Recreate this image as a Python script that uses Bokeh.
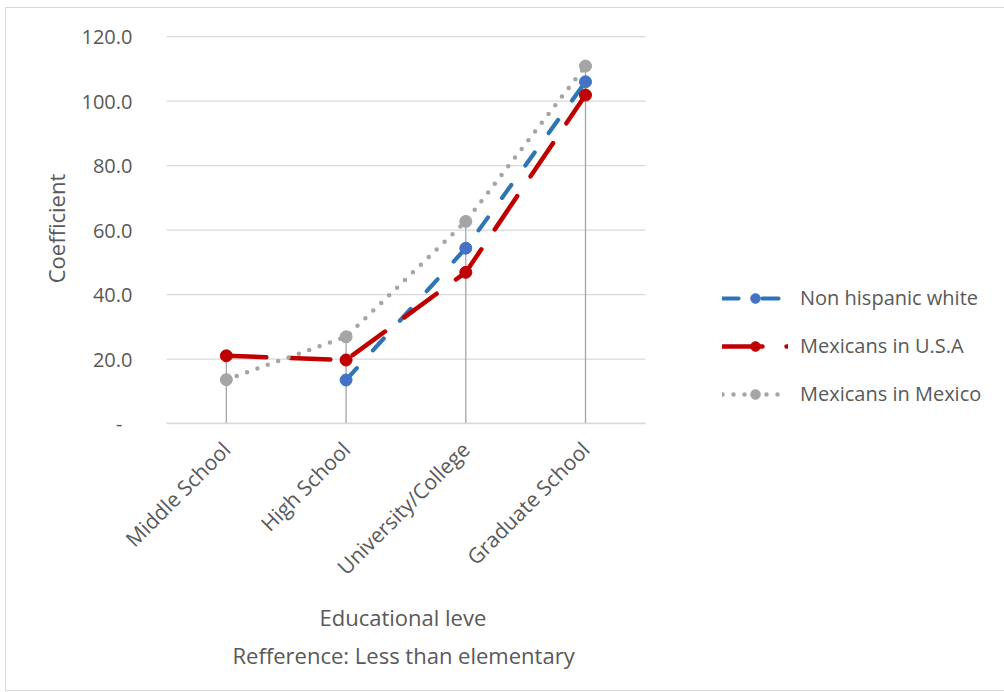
import math
from bokeh.plotting import figure
from bokeh.models import (ColumnDataSource, FactorRange, Range1d, FixedTicker,
                          Legend, LegendItem, Title)
from bokeh.embed import file_html
from bokeh.resources import INLINE

# Education levels (reference category: less than elementary)
levels = ["Middle School", "High School", "University/College", "Graduate School"]

# Regression coefficients per group
non_hispanic_white = [float("nan"), 13.5, 54.4, 106.0]
mexicans_usa = [21.0, 19.7, 46.9, 101.9]
mexicans_mexico = [13.6, 26.9, 62.7, 110.9]

y_ticks = [0, 20, 40, 60, 80, 100, 120]

TEXT = "#595959"
GRID = "#D9D9D9"
FONT = "Open Sans"

# Blank slots to the right of the categories leave room for the legend
# inside the frame; the axis and grid are bounded to the real categories.
spacers = [" " * (i + 1) for i in range(3)]
n = len(levels)

p = figure(x_range=FactorRange(factors=levels + spacers, range_padding=0),
           y_range=Range1d(0, 121),
           width=1004, height=692,
           min_border_left=166, min_border_right=0,
           min_border_top=33, min_border_bottom=269,
           output_backend="svg", toolbar_location=None)
p.outline_line_color = None
p.background_fill_color = "white"
p.border_fill_alpha = 0

# Chart-area frame (left, top and bottom edges) painted behind the canvas
p.styles = {
    "background-color": "white",
    "background-image": ", ".join([f"linear-gradient({GRID}, {GRID})"] * 3),
    "background-size": "1px 684px, 1004px 1px, 1004px 1px",
    "background-position": "5px 7px, 5px 7px, 5px 690px",
    "background-repeat": "no-repeat",
}

# Horizontal gridlines over the category area only
p.xgrid.grid_line_color = None
p.ygrid.grid_line_color = None
p.segment(x0=[0] * len(y_ticks), y0=y_ticks, x1=[n] * len(y_ticks), y1=y_ticks,
          line_color=GRID, line_width=1.3)

# Y axis
p.yaxis.ticker = FixedTicker(ticks=y_ticks)
p.yaxis.major_label_overrides = {t: ("-\u2002" if t == 0 else f"{t:.1f}") for t in y_ticks}
p.yaxis.axis_line_color = None
p.yaxis.major_tick_line_color = None
p.yaxis.minor_tick_line_color = None
p.yaxis.major_label_standoff = 28
p.yaxis.major_label_text_font = FONT
p.yaxis.major_label_text_font_size = "20px"
p.yaxis.major_label_text_color = TEXT
p.yaxis.axis_label = "Coefficient"
p.yaxis.axis_label_text_font = FONT
p.yaxis.axis_label_text_font_size = "22px"
p.yaxis.axis_label_text_font_style = "normal"
p.yaxis.axis_label_text_color = TEXT
p.yaxis.axis_label_standoff = 8

# X axis
p.xaxis.bounds = (0, n)
p.xaxis.axis_line_color = GRID
p.xaxis.axis_line_width = 1.3
p.xaxis.major_tick_line_color = None
p.xaxis.minor_tick_line_color = None
p.xaxis.major_label_orientation = math.pi / 4
p.xaxis.major_label_standoff = 16
p.xaxis.major_label_text_font = FONT
p.xaxis.major_label_text_font_size = "21px"
p.xaxis.major_label_text_color = TEXT

# X-axis title lines, centred under the category area
for text, offset, standoff in [("Educational leve", 153, 12),
                               ("Refference: Less than elementary", 66, 0)]:
    p.add_layout(Title(text=text, align="left", offset=offset, standoff=standoff,
                       text_font=FONT, text_font_size="22px",
                       text_line_height=0.85,
                       text_font_style="normal", text_color=TEXT), "below")

# Drop lines from the highest point of each level down to the axis
tops = [max(v for v in vals if not math.isnan(v))
        for vals in zip(non_hispanic_white, mexicans_usa, mexicans_mexico)]
p.segment(x0=levels, y0=[0] * n, x1=levels, y1=tops,
          line_color="#A5A5A5", line_width=1.3)

src = ColumnDataSource(dict(level=levels, nhw=non_hispanic_white,
                            usa=mexicans_usa, mex=mexicans_mexico))

l1 = p.line("level", "nhw", source=src, line_color="#2E75B6", line_width=4.2,
            line_dash="16 24", line_cap="round")
m1 = p.scatter("level", "nhw", source=src, size=12, marker="circle",
               fill_color="#4472C4", line_color="#4472C4")

l2 = p.line("level", "usa", source=src, line_color="#C00000", line_width=4.5,
            line_dash="40 24", line_cap="round")
m2 = p.scatter("level", "usa", source=src, size=12, marker="circle",
               fill_color="#C00000", line_color="#C00000")

l3 = p.line("level", "mex", source=src, line_color="#A5A5A5", line_width=4.5,
            line_dash="0 11", line_cap="round")
m3 = p.scatter("level", "mex", source=src, size=12, marker="circle",
               fill_color="#A5A5A5", line_color="#A5A5A5")

legend = Legend(items=[
    LegendItem(label="Non hispanic white", renderers=[l1, m1]),
    LegendItem(label="Mexicans in U.S.A", renderers=[l2, m2]),
    LegendItem(label="Mexicans in Mexico", renderers=[l3, m3]),
], location=(556, 16))
legend.padding = 0
legend.margin = 0
legend.border_line_color = None
legend.background_fill_alpha = 0
legend.glyph_width = 66
legend.glyph_height = 24
legend.label_height = 24
legend.spacing = 21
legend.label_standoff = 12
legend.label_text_font = FONT
legend.label_text_font_size = "20px"
legend.label_text_color = TEXT
p.add_layout(legend, "center")

open("out.html", "w").write(file_html(p, INLINE))
